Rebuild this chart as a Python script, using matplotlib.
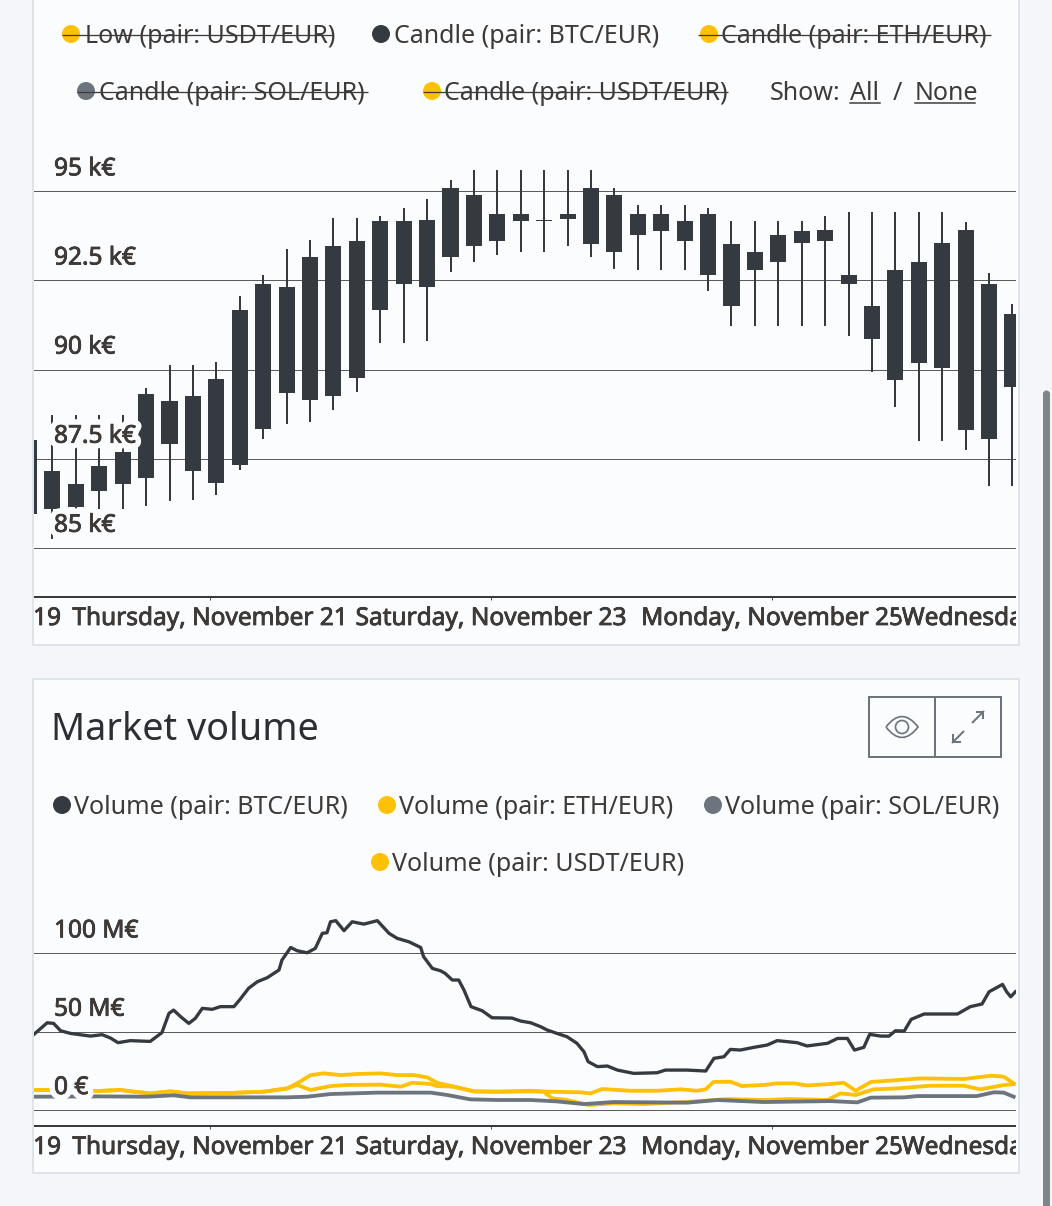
import numpy as np
import matplotlib
matplotlib.use("Agg")
import matplotlib.pyplot as plt
import matplotlib.patheffects as pe
from matplotlib.patches import Rectangle, FancyBboxPatch, PathPatch, Circle
from matplotlib.path import Path
from matplotlib.transforms import Bbox, TransformedBbox

# ---------- data ----------
CANDLE_HOURS = np.arange(-31, 138, 4)   # hours after Thursday Nov 21 00:00
HIGH = [88.02, 88.72, 88.72, 88.72, 88.72, 89.47, 90.12, 90.12, 90.21, 92.06, 92.64,
        93.37, 93.64, 94.26, 94.26, 94.31, 94.53, 94.79, 95.32, 95.61, 95.61, 95.61,
        95.61, 95.61, 95.60, 95.10, 94.63, 94.63, 94.63, 94.52, 94.18, 94.18, 94.18,
        94.18, 94.31, 94.41, 94.41, 94.41, 94.41, 94.41, 94.15, 92.72, 91.85]
BODY_TOP = [88.02, 87.15, 86.80, 87.29, 87.69, 89.32, 89.12, 89.25, 89.74, 91.67, 92.40,
            92.32, 93.16, 93.46, 93.62, 94.18, 94.18, 94.21, 95.08, 94.91, 94.36, 94.36,
            94.19, 94.36, 95.08, 94.91, 94.36, 94.36, 94.17, 94.36, 93.51, 93.29, 93.78,
            93.90, 93.92, 92.65, 91.79, 92.78, 93.02, 93.55, 93.92, 92.40, 91.56]
BODY_BOTTOM = [85.96, 86.10, 86.14, 86.60, 86.78, 86.97, 87.92, 87.15, 86.82, 87.31, 88.33,
               89.33, 89.14, 89.26, 89.75, 91.68, 92.40, 92.32, 93.16, 93.48, 93.62, 94.18,
               94.18, 94.22, 93.51, 93.29, 93.78, 93.90, 93.62, 92.65, 91.79, 92.79, 93.03,
               93.55, 93.62, 92.40, 90.87, 89.70, 90.19, 90.04, 88.31, 88.05, 89.51]
LOW = [85.96, 85.25, 85.86, 86.10, 86.10, 86.17, 86.31, 86.35, 86.49, 87.19, 88.05,
       88.48, 88.53, 88.87, 89.38, 90.75, 90.75, 90.80, 92.74, 93.01, 93.21, 93.31,
       93.31, 93.47, 93.16, 92.82, 92.80, 92.80, 92.80, 92.21, 91.23, 91.23, 91.23,
       91.23, 91.23, 90.94, 89.93, 88.96, 88.00, 88.00, 87.75, 86.73, 86.73]

BTC_H = [-30.1, -29.0, -27.9, -26.8, -25.6, -23.9, -20.5, -18.5, -17.1, -15.8, -13.7, -10.3, -8.3, -7.1,
         -6.3, -5.1, -3.7, -2.6, -1.4, 0.3, 1.7, 4.0, 5.1, 6.5, 8.0, 9.7, 11.7, 12.2, 13.7, 14.8, 16.5,
         17.9, 19.1, 19.9, 20.5, 21.4, 22.8, 24.2, 26.2, 28.5, 30.5, 31.9, 33.9, 35.9, 36.4, 37.9, 39.3,
         40.1, 41.3, 42.4, 43.3, 44.5, 46.4, 48.1, 51.5, 53.0, 54.7, 56.4, 57.5, 59.2, 60.9, 62.6, 63.8,
         64.5, 66.1, 67.8, 69.5, 72.3, 76.3, 77.7, 81.4, 84.6, 86.0, 87.7, 88.8, 90.5, 92.8, 95.1, 96.8,
         100.2, 101.9, 105.4, 107.1, 108.8, 110.0, 111.6, 112.6, 114.5, 115.9, 117.0, 118.5, 119.7, 121.9,
         127.6, 129.8, 131.8, 133.0, 135.3, 136.0, 136.7, 137.5]
BTC_V = [48.5, 52.1, 55.7, 55.3, 50.6, 48.9, 47.2, 48.1, 46.0, 43.0, 44.3, 43.8, 49.4, 61.7,
         63.8, 59.6, 55.3, 58.5, 64.9, 64.3, 66.0, 66.0, 70.9, 77.7, 81.9, 84.5, 89.4, 95.7, 103.8, 101.7, 100.4,
         103.2, 112.8, 113.2, 120.2, 120.9, 114.5, 120.2, 118.7, 120.9, 112.8, 109.6, 107.4, 103.8, 97.9, 90.4, 88.9,
         87.2, 83.0, 83.0, 76.6, 66.0, 63.4, 58.9, 58.7, 56.8, 55.7, 53.2, 51.1, 48.9, 46.8, 42.6, 37.2,
         30.9, 27.7, 28.1, 25.5, 23.4, 23.8, 25.5, 25.5, 24.9, 33.0, 34.0, 38.7, 38.3, 40.0, 41.5, 44.3,
         43.0, 40.9, 42.6, 45.7, 45.7, 38.3, 40.0, 48.3, 47.2, 47.2, 50.6, 50.4, 57.9, 61.3,
         61.3, 66.0, 67.7, 75.5, 80.2, 75.5, 72.3, 75.5]

USDT_H = [-30.1, -27.9, -19.4, -15.4, -13.1, -10.3, -6.8, -4.0, 3.4, 9.1, 13.1, 14.8, 17.1, 19.4, 22.2, 25.1,
          29.0, 31.9, 34.7, 37.0, 38.7, 41.6, 45.0, 49.0, 54.7, 58.1, 63.2, 64.9, 66.9, 71.8, 76.3, 80.3, 83.1,
          84.6, 85.9, 88.8, 90.8, 94.5, 96.8, 99.7, 101.9, 105.9, 108.2, 110.2, 112.8, 117.3, 121.3, 128.7,
          133.3, 135.5, 137.2]
USDT_V = [12.8, 12.8, 12.1, 12.8, 11.7, 10.6, 11.9, 10.6, 10.9, 11.7, 13.8, 17.0, 22.3, 23.4, 22.3, 23.0,
          23.4, 22.3, 22.3, 20.9, 17.4, 14.9, 11.9, 11.7, 11.9, 11.7, 11.3, 10.6, 13.4, 12.3, 12.3, 13.2, 12.3,
          13.2, 17.9, 18.1, 15.3, 16.0, 17.0, 17.0, 15.7, 16.6, 17.4, 12.3, 17.9, 19.1, 20.2, 19.8,
          21.9, 21.3, 17.0]

ETH_H = [-30.1, -27.9, -19.4, -15.4, -13.1, -10.3, -6.8, -4.0, 3.4, 9.1, 13.1, 14.8, 17.1, 20.5, 23.3, 29.0,
         32.5, 34.5, 37.6, 38.7, 41.6, 45.0, 49.0, 54.7, 56.9, 58.4, 60.9, 64.6, 68.9, 74.0, 82.0, 88.3, 94.5,
         99.1, 105.4, 107.6, 110.2, 113.3, 117.3, 123.0, 128.7, 131.5, 135.5, 137.2]
ETH_V = [12.8, 12.8, 12.1, 12.8, 11.7, 10.6, 11.9, 10.6, 10.9, 11.7, 13.8, 16.0, 12.8, 15.3, 16.0, 16.2,
         14.9, 17.4, 16.6, 15.3, 14.9, 11.9, 11.7, 12.3, 11.7, 7.4, 6.4, 3.2, 4.3, 3.8, 5.3, 7.0, 6.4,
         7.0, 6.4, 10.6, 9.6, 13.2, 13.8, 15.5, 15.5, 13.2, 15.9, 16.6]

SOL_H = [-30.1, -19.4, -10.8, -6.3, -3.4, 13.1, 16.5, 20.5, 28.5, 37.6, 40.4, 44.4, 49.0, 54.7, 59.2, 63.8,
         68.9, 81.4, 86.6, 94.5, 105.9, 110.5, 112.8, 118.5, 120.7, 130.9, 133.8, 135.5, 137.2]
SOL_V = [8.5, 8.7, 8.5, 9.4, 8.1, 8.1, 8.5, 10.2, 11.1, 11.1, 9.6, 6.8, 6.4, 6.4, 5.5, 3.8,
         5.1, 4.7, 6.4, 5.1, 5.7, 4.9, 7.9, 8.1, 8.9, 8.9, 11.3, 11.1, 8.5]

PRICE_TICKS = [95, 92.5, 90, 87.5, 85]
PRICE_LABELS = ["95 k€", "92.5 k€", "90 k€", "87.5 k€", "85 k€"]
VOLUME_TICKS = [100, 50, 0]
VOLUME_LABELS = ["100 M€", "50 M€", "0 €"]
DATE_HOURS = [-48, 0, 48, 96, 144]
DATE_LABELS = ["Tuesday, November 19", "Thursday, November 21", "Saturday, November 23",
               "Monday, November 25", "Wednesday, November 27"]

# ---------- style ----------
W, H = 1052, 1206
DARK, GREY, YEL = "#343a40", "#6c757d", "#ffc107"
CARD, PAGE, BORDER = "#fbfcfe", "#f5f6fa", "#dfe3ea"
TXT = "#3d3a38"
FONT = "Noto Sans"
plt.rcParams["font.family"] = [FONT, "DejaVu Sans"]
px = 0.72
FS = 18.05
FS_TICK = 17.6

fig = plt.figure(figsize=(W / 100, H / 100), dpi=100, facecolor=PAGE)
bg = fig.add_axes([0, 0, 1, 1], zorder=0)
bg.set_xlim(0, W); bg.set_ylim(H, 0); bg.axis("off")

def axes_px(x0, y0, x1, y1):
    return fig.add_axes([x0 / W, 1 - y1 / H, (x1 - x0) / W, (y1 - y0) / H], zorder=1, facecolor="none")

# cards
for (x0, y0, x1, y1) in [(33, -10, 1019, 645), (33, 679, 1019, 1173)]:
    bg.add_patch(Rectangle((x0, y0), x1 - x0, y1 - y0, fc=CARD, ec=BORDER, lw=2 * px))

# scrollbar
bg.add_patch(FancyBboxPatch((1043.5, 391), 6, 830, boxstyle="round,pad=0,rounding_size=3",
                            fc="#808588", ec="#808588", lw=1 * px))

def legend_item(dot_x, text_x, y, label, color, strike=None):
    t = bg.text(text_x, y + 9, label, fontsize=FS, color=TXT, va="baseline", ha="left")
    bg.add_patch(Circle((dot_x, y), 9, fc=color, ec="none", zorder=2))
    if strike:
        bg.plot(strike, [y + 1, y + 1], color=TXT, lw=1.3 * px, zorder=3, solid_capstyle="butt")
    return t

legend_item(71, 85, 34, "Low (pair: USDT/EUR)", YEL, (62, 333))
legend_item(381, 394, 34, "Candle (pair: BTC/EUR)", DARK)
legend_item(709, 721, 34, "Candle (pair: ETH/EUR)", YEL, (698, 991))
legend_item(86, 99, 91, "Candle (pair: SOL/EUR)", GREY, (77, 368))
legend_item(432, 444, 91, "Candle (pair: USDT/EUR)", YEL, (423, 728))
bg.text(770, 100, "Show:", fontsize=FS, color=TXT)
bg.text(850, 100, "All", fontsize=FS, color=TXT)
bg.text(893, 100, "/", fontsize=FS, color=TXT)
bg.text(915, 100, "None", fontsize=FS, color=TXT)
bg.plot([850, 880], [103, 103], color=TXT, lw=1.5 * px)
bg.plot([915, 975], [103, 103], color=TXT, lw=1.5 * px)

bg.text(51, 740, "Market volume", fontsize=27.2, color="#2b2f33")
legend_item(62, 74, 805, "Volume (pair: BTC/EUR)", DARK)
legend_item(387, 399, 805, "Volume (pair: ETH/EUR)", YEL)
legend_item(713, 725, 805, "Volume (pair: SOL/EUR)", GREY)
legend_item(380, 392, 862, "Volume (pair: USDT/EUR)", YEL)

# buttons
bg.add_patch(Rectangle((869, 697), 132, 60, fc="none", ec=GREY, lw=2 * px))
bg.plot([935, 935], [697, 757], color=GREY, lw=2 * px)
eye = Path([(886, 727), (902, 706), (918, 727), (902, 748), (886, 727)],
           [Path.MOVETO, Path.CURVE3, Path.CURVE3, Path.CURVE3, Path.CURVE3])
bg.add_patch(PathPatch(eye, fc="none", ec=GREY, lw=1.7 * px))
bg.add_patch(Circle((902, 727), 6.5, fc="none", ec=GREY, lw=1.7 * px))
for seg in [[(972.7, 722.3), (983.3, 711.7)], [(976.7, 711.7), (983.3, 711.7), (983.3, 718.3)],
            [(963.3, 731.7), (952.7, 742.3)], [(952.7, 735), (952.7, 742.3), (960, 742.3)]]:
    xs, ys = zip(*seg)
    bg.plot(xs, ys, color=GREY, lw=2 * px)

XMIN, XMAX = -30.15, 137.6
def style_axis(ax, ticks):
    ax.set_xlim(XMIN, XMAX)
    for s in ("top", "left", "right"):
        ax.spines[s].set_visible(False)
    ax.spines["bottom"].set_linewidth(2 * px)
    ax.spines["bottom"].set_color("#3a3a3a")
    ax.spines["bottom"].set_capstyle("butt")
    ax.set_yticks(ticks, [""] * len(ticks))
    ax.tick_params(axis="y", length=0)
    ax.set_xticks([0, 48, 96], ["", "", ""])
    ax.tick_params(axis="x", length=3 * px, width=1 * px, color="#555555")
    ax.grid(axis="y", color="#5c5c5c", lw=1 * px, zorder=0)
    ax.set_axisbelow(True)

def labels(ax, ticks, tick_labels, x0, x1, y_top, y_bottom):
    halo = [pe.withStroke(linewidth=12 * px, foreground=CARD),
            pe.Stroke(linewidth=0.8 * px, foreground=TXT), pe.Normal()]
    date_halo = [pe.withStroke(linewidth=7 * px, foreground=CARD),
                 pe.Stroke(linewidth=0.8 * px, foreground=TXT), pe.Normal()]
    for v, s in zip(ticks, tick_labels):
        ax.annotate(s, xy=(0, v), xycoords=ax.get_yaxis_transform(), xytext=(20 * px, 16 * px),
                    textcoords="offset points", fontsize=FS_TICK, color=TXT,
                    va="baseline", ha="left", zorder=6, path_effects=halo, annotation_clip=False)
    clip = TransformedBbox(Bbox([[x0, y_bottom], [x1, y_top]]), bg.transData)
    for i, (h, s) in enumerate(zip(DATE_HOURS, DATE_LABELS)):
        t = ax.annotate(s, xy=(h, 0), xycoords=ax.get_xaxis_transform(), xytext=(0, -28 * px),
                        textcoords="offset points", fontsize=FS_TICK, color=TXT,
                        va="baseline", ha="center", zorder=7 + i, path_effects=date_halo, annotation_clip=False)
        t.set_clip_box(clip)
        t.set_clip_on(True)

# candle chart
ax1 = axes_px(34, 150, 1016, 597)
ax1.set_ylim(83.62, 96.16)
style_axis(ax1, PRICE_TICKS)
ax1.vlines(CANDLE_HOURS, LOW, HIGH, color=DARK, lw=2 * px, zorder=3)
ax1.bar(CANDLE_HOURS, np.array(BODY_TOP) - np.array(BODY_BOTTOM), bottom=BODY_BOTTOM,
        width=2.75, color=DARK, lw=0, zorder=4)
labels(ax1, PRICE_TICKS, PRICE_LABELS, 34, 1016, 597, 640)

# volume chart
ax2 = axes_px(34, 905, 1016, 1126)
ax2.set_ylim(-10.2, 130.9)
style_axis(ax2, VOLUME_TICKS)
ax2.plot(BTC_H, BTC_V, color=DARK, lw=3.3 * px, zorder=3, solid_joinstyle="round")
ax2.plot(ETH_H, ETH_V, color=YEL, lw=3.8 * px, zorder=3.1, solid_joinstyle="round")
ax2.plot(USDT_H, USDT_V, color=YEL, lw=3.8 * px, zorder=3.2, solid_joinstyle="round")
ax2.plot(SOL_H, SOL_V, color=GREY, lw=3.8 * px, zorder=3.3, solid_joinstyle="round")
labels(ax2, VOLUME_TICKS, VOLUME_LABELS, 34, 1016, 1126, 1168)

fig.savefig("out.png", dpi=100, facecolor=PAGE)
